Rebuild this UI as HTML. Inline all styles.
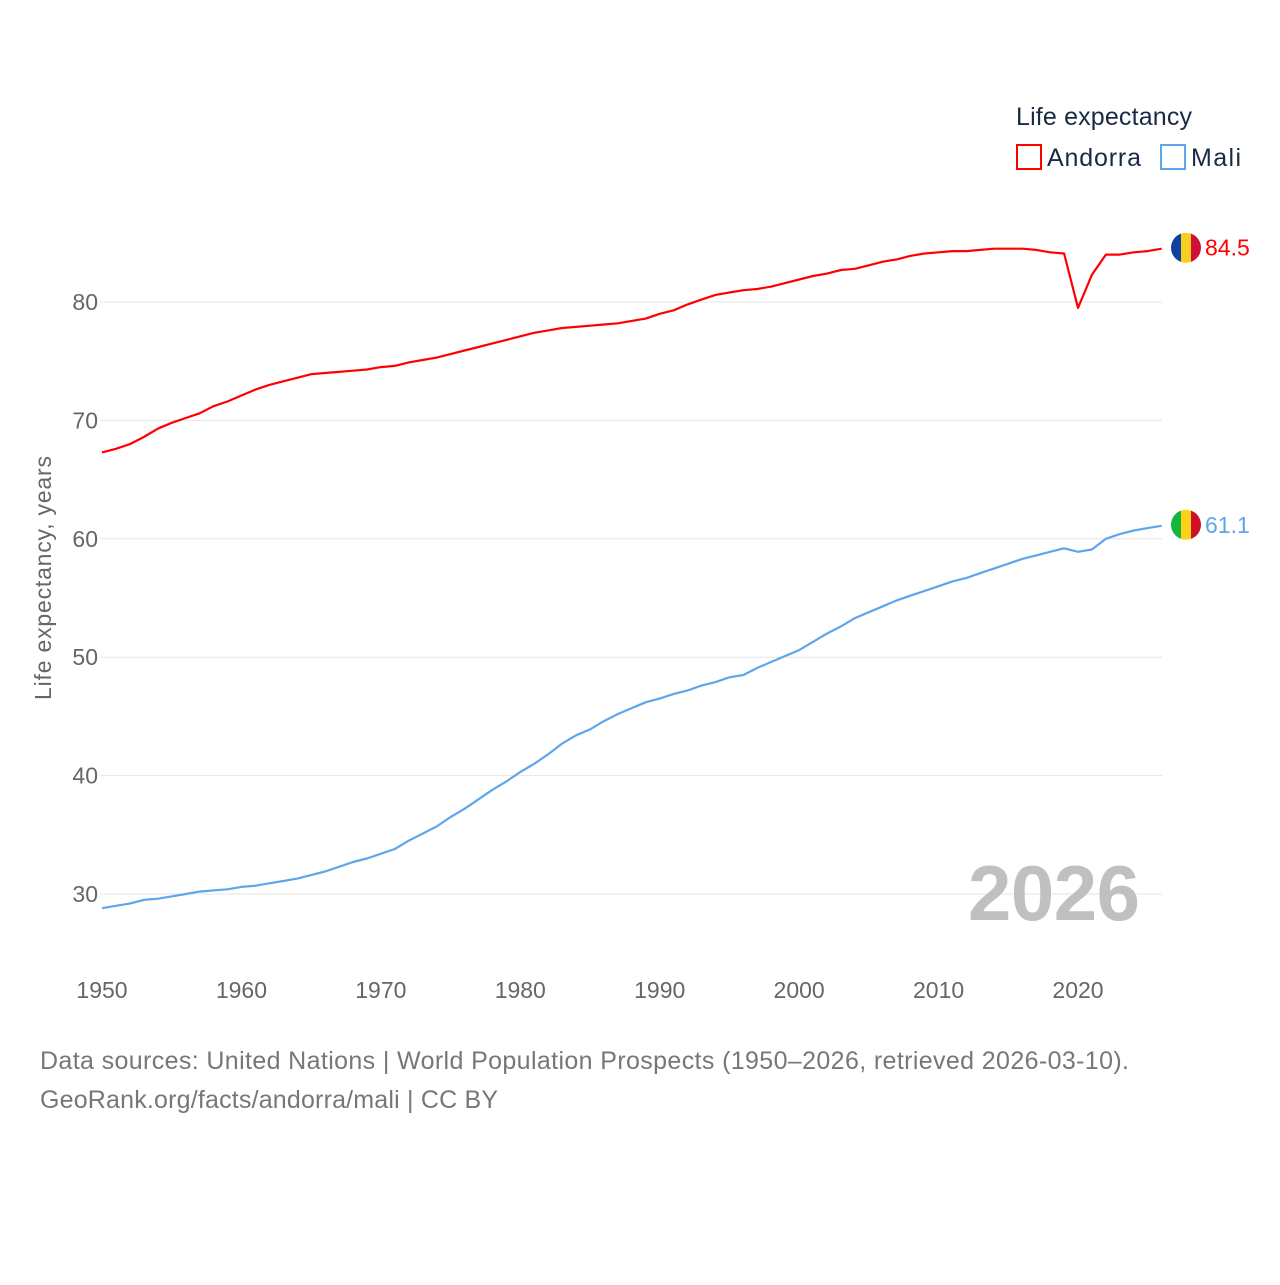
<!DOCTYPE html>
<html><head><meta charset="utf-8"><style>
html,body{margin:0;padding:0;background:#fff;}
svg text{font-family:"Liberation Sans",sans-serif;}
</style></head><body>
<svg id="chart" width="1280" height="1280" viewBox="0 0 1280 1280" xmlns="http://www.w3.org/2000/svg">
<g id="grid"></g>
<g id="yticks"></g>
<g id="xticks"></g>
<text x="968" y="920" font-size="78" font-weight="bold" fill="#c0c0c0" textLength="172">2026</text>
<g id="series"></g>
<text transform="translate(51,578) rotate(-90)" text-anchor="middle" font-size="23" fill="#666" textLength="244">Life expectancy, years</text>
<text x="1016" y="125" font-size="25" fill="#1a2a44" textLength="176">Life expectancy</text>
<g>
<rect x="1017" y="145" width="24" height="24" fill="none" stroke="#f00" stroke-width="2"/>
<text x="1047" y="166" font-size="25" fill="#1a2a44" textLength="94">Andorra</text></g>
<g>
<rect x="1161" y="145" width="24" height="24" fill="none" stroke="#5ea6ec" stroke-width="2"/>
<text x="1191" y="166" font-size="25" fill="#1a2a44" textLength="50">Mali</text></g>
<text x="40" y="1069" font-size="25" fill="#777" textLength="1089">Data sources: United Nations | World Population Prospects (1950–2026, retrieved 2026-03-10).</text>
<text x="40" y="1108" font-size="25" fill="#777" textLength="458">GeoRank.org/facts/andorra/mali | CC BY</text>
</svg>
<script>
const years = [];
for (let y = 1950; y <= 2026; y++) years.push(y);
const andorra = [67.3,67.6,68.0,68.6,69.3,69.8,70.2,70.6,71.2,71.6,72.1,72.6,73.0,73.3,73.6,73.9,74.0,74.1,74.2,74.3,74.5,74.6,74.9,75.1,75.3,75.6,75.9,76.2,76.5,76.8,77.1,77.4,77.6,77.8,77.9,78.0,78.1,78.2,78.4,78.6,79.0,79.3,79.8,80.2,80.6,80.8,81.0,81.1,81.3,81.6,81.9,82.2,82.4,82.7,82.8,83.1,83.4,83.6,83.9,84.1,84.2,84.3,84.3,84.4,84.5,84.5,84.5,84.4,84.2,84.1,79.5,82.3,84.0,84.0,84.2,84.3,84.5];
const mali = [28.8,29.0,29.2,29.5,29.6,29.8,30.0,30.2,30.3,30.4,30.6,30.7,30.9,31.1,31.3,31.6,31.9,32.3,32.7,33.0,33.4,33.8,34.5,35.1,35.7,36.5,37.2,38.0,38.8,39.5,40.3,41.0,41.8,42.7,43.4,43.9,44.6,45.2,45.7,46.2,46.5,46.9,47.2,47.6,47.9,48.3,48.5,49.1,49.6,50.1,50.6,51.3,52.0,52.6,53.3,53.8,54.3,54.8,55.2,55.6,56.0,56.4,56.7,57.1,57.5,57.9,58.3,58.6,58.9,59.2,58.9,59.1,60.0,60.4,60.7,60.9,61.1];
const yTicks = [30,40,50,60,70,80];
const xTicks = [1950,1960,1970,1980,1990,2000,2010,2020];
const NS = "http://www.w3.org/2000/svg";
const xs = y => 102 + (y - 1950) * (976 / 70);
const ys = v => 894 - (v - 30) * 11.84;
function el(tag, attrs, parent) {
  const e = document.createElementNS(NS, tag);
  for (const k in attrs) e.setAttribute(k, attrs[k]);
  parent.appendChild(e); return e;
}
const grid = document.getElementById('grid'), yt = document.getElementById('yticks'), xt = document.getElementById('xticks'), ser = document.getElementById('series');
yTicks.forEach(t => {
  const l = el('line', {x1: 100, x2: 1162, y1: ys(t), y2: ys(t), stroke: '#e6e6e6', 'stroke-width': 1}, grid);
  
  
  const tx = el('text', {x: 98, y: ys(t) + 8, 'text-anchor': 'end', 'font-size': 23, fill: '#666'}, yt);
  tx.textContent = t;
  
  
});
xTicks.forEach(t => {
  const tx = el('text', {x: xs(t), y: 998, 'text-anchor': 'middle', 'font-size': 23, fill: '#666'}, xt);
  tx.textContent = t;
  
  
});
function drawSeries(vals, color, name) {
  const d = vals.map((v, i) => (i ? 'L' : 'M') + xs(years[i]).toFixed(1) + ' ' + ys(v).toFixed(1)).join(' ');
  const p = el('path', {d: d, fill: 'none', stroke: color, 'stroke-width': 2.2, 'stroke-linejoin': 'round'}, ser);
  
  
  const last = vals[vals.length - 1];
  const cy = ys(last);
  const lab = el('text', {x: 1205, y: cy + 7, 'font-size': 23, fill: color}, ser);
  lab.textContent = last.toFixed(1);
  
  
  return cy;
}
function flag(cy, colors, name) {
  const g = el('g', {}, ser);
  
  
  const cp = el('clipPath', {id: 'c' + name}, g);
  el('circle', {cx: 1186, cy: cy - 1, r: 15}, cp);
  colors.forEach((c, i) => el('rect', {x: 1171 + i * 10, y: cy - 16, width: 10, height: 30, fill: c, 'clip-path': 'url(#c' + name + ')'}, g));
}
const ca = drawSeries(andorra, '#ff0000', 'andorra');
const cm = drawSeries(mali, '#5ea6ec', 'mali');
flag(ca, ['#1040a0', '#f5d020', '#d0103a'], 'andorra');
flag(cm, ['#14b53a', '#fcd116', '#ce1126'], 'mali');
</script>
</body></html>
